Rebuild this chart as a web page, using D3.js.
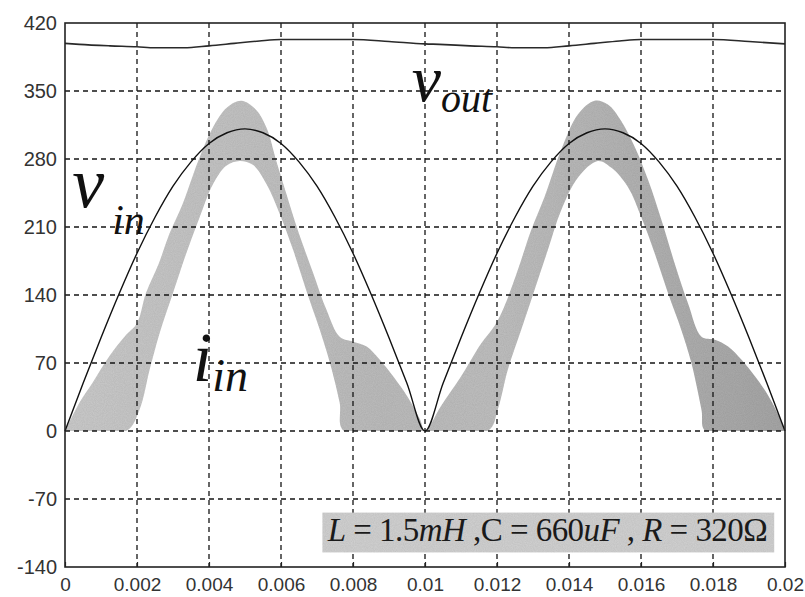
<!DOCTYPE html>
<html>
<head>
<meta charset="utf-8">
<script src="https://cdn.jsdelivr.net/npm/d3@7"></script>
<style>
  body { margin: 0; background: #ffffff; }
  svg { display: block; }
</style>
</head>
<body>
<svg id="chart" width="805" height="597"></svg>
<script>
// ---- axis ticks ----
const xTicks = [0, 0.002, 0.004, 0.006, 0.008, 0.01, 0.012, 0.014, 0.016, 0.018, 0.02];
const xTickLabels = ["0", "0.002", "0.004", "0.006", "0.008", "0.01", "0.012", "0.014", "0.016", "0.018", "0.02"];
const yTicks = [-140, -70, 0, 70, 140, 210, 280, 350, 420];
const yTickLabels = ["-140", "-70", "0", "70", "140", "210", "280", "350", "420"];

// ---- input voltage v_in (rectified mains, V) ----
const vinTime = [0, 0.0005, 0.001, 0.0015, 0.002, 0.0025, 0.003, 0.0035, 0.004, 0.0045,
                 0.005, 0.0055, 0.006, 0.0065, 0.007, 0.0075, 0.008, 0.0085, 0.009, 0.0095,
                 0.01, 0.0105, 0.011, 0.0115, 0.012, 0.0125, 0.013, 0.0135, 0.014, 0.0145,
                 0.015, 0.0155, 0.016, 0.0165, 0.017, 0.0175, 0.018, 0.0185, 0.019, 0.0195, 0.02];
const vinValues = [0, 49, 96, 141, 183, 220, 252, 277, 296, 307,
                   311, 307, 296, 277, 252, 220, 183, 141, 96, 49,
                   0, 49, 96, 141, 183, 220, 252, 277, 296, 307,
                   311, 307, 296, 277, 252, 220, 183, 141, 96, 49, 0];

// ---- output voltage v_out (V) ----
const voutTime = [0, 0.0004, 0.00125, 0.002, 0.0025, 0.0033, 0.004, 0.0047, 0.0054, 0.006,
                  0.008, 0.009, 0.01, 0.0104, 0.01125, 0.012, 0.0125, 0.0133, 0.014, 0.0147,
                  0.0154, 0.016, 0.018, 0.019, 0.02];
const voutValues = [399, 398, 396.5, 395.5, 394.5, 394.5, 396.5, 399, 401.5, 403,
                    403, 401, 398.5, 398, 396.5, 395.5, 394.5, 394.5, 396.5, 399,
                    401.5, 403, 403, 401, 398.5];

// ---- input current band i_in (scaled), upper and lower envelope of the ripple ----
const iinUpperTime = [0, 0.0004, 0.00077, 0.00123, 0.0017, 0.002, 0.00225, 0.0026, 0.0029, 0.00327,
                      0.0037, 0.0041, 0.0045, 0.0049, 0.0053, 0.0056, 0.00587, 0.00615, 0.0065, 0.0069,
                      0.00726, 0.00763, 0.008, 0.00838, 0.00875, 0.00912, 0.0095, 0.00986, 0.01,
                      0.01045, 0.011, 0.01156, 0.01193, 0.0122, 0.01258, 0.01295, 0.01332, 0.01378, 0.01425,
                      0.01471, 0.01508, 0.01545, 0.01583, 0.0162, 0.01657, 0.01694, 0.01731, 0.01768, 0.01805,
                      0.01842, 0.0188, 0.01917, 0.01954, 0.01991, 0.02];
const iinUpperValues = [0, 29, 50, 77, 99, 111, 142, 172, 203, 234,
                        278, 312, 333, 340, 331, 312, 278, 244, 203, 162,
                        125, 97, 92, 87, 73, 56, 36, 12, 0,
                        26, 56, 90, 108, 128, 166, 207, 241, 289, 326,
                        340, 336, 319, 292, 258, 217, 172, 131, 97, 94,
                        87, 73, 56, 36, 9, 0];
const iinLowerTime = [0, 0.0017, 0.00207, 0.00235, 0.00263, 0.003, 0.00337, 0.00374, 0.00411, 0.00448,
                      0.00485, 0.00522, 0.0056, 0.00596, 0.00634, 0.0067, 0.00708, 0.00736, 0.00763, 0.00775,
                      0.01174, 0.01202, 0.0123, 0.01267, 0.01304, 0.01341, 0.01378, 0.01425, 0.0148, 0.01518,
                      0.01564, 0.01601, 0.01638, 0.01675, 0.01712, 0.0174, 0.01768, 0.01779, 0.02];
const iinLowerValues = [0, 0, 22, 63, 101, 142, 183, 220, 254, 273,
                        278, 274, 254, 224, 186, 145, 104, 70, 29, 0,
                        0, 22, 63, 104, 145, 186, 227, 261, 278, 271,
                        251, 220, 183, 142, 104, 70, 22, 0, 0];

// ---- annotation text ----
const paramText = [
  { t: "L", italic: true }, { t: " = 1.5", italic: false }, { t: "mH", italic: true },
  { t: " ,", italic: false }, { t: "C", italic: false }, { t: " = 660", italic: false },
  { t: "uF", italic: true }, { t: " , ", italic: false }, { t: "R", italic: true },
  { t: " = 320Ω", italic: false }
];

// ---- layout ----
const plot = { left: 65, right: 785, top: 23, bottom: 567 };
const svg = d3.select("#chart");

const x = d3.scaleLinear().domain([0, 0.02]).range([plot.left, plot.right]);
const y = d3.scaleLinear().domain([-140, 420]).range([plot.bottom, plot.top]);

svg.append("rect").attr("width", 805).attr("height", 597).attr("fill", "#ffffff");

const defs = svg.append("defs");
const grad = defs.append("linearGradient")
  .attr("id", "bandFill").attr("gradientUnits", "userSpaceOnUse")
  .attr("x1", x(0)).attr("x2", x(0.02)).attr("y1", 0).attr("y2", 0);
grad.append("stop").attr("offset", "0%").attr("stop-color", "#cbcbcb");
grad.append("stop").attr("offset", "45%").attr("stop-color", "#bcbcbc");
grad.append("stop").attr("offset", "60%").attr("stop-color", "#c0c0c0");
grad.append("stop").attr("offset", "100%").attr("stop-color", "#a6a6a6");

const grain = defs.append("filter").attr("id", "grain")
  .attr("x", 0).attr("y", 0).attr("width", 1).attr("height", 1);
grain.append("feTurbulence").attr("type", "fractalNoise").attr("baseFrequency", 0.9)
  .attr("numOctaves", 2).attr("seed", 3).attr("result", "noise");
grain.append("feColorMatrix").attr("in", "noise").attr("type", "matrix")
  .attr("values", "0 0 0 0 0  0 0 0 0 0  0 0 0 0 0  0 0 0 0.18 0").attr("result", "speck");
grain.append("feComposite").attr("in", "speck").attr("in2", "SourceGraphic").attr("operator", "in").attr("result", "speckIn");
grain.append("feMerge").selectAll("feMergeNode").data(["SourceGraphic", "speckIn"]).join("feMergeNode").attr("in", d => d);

defs.append("clipPath").attr("id", "aboveZero")
  .append("rect").attr("x", x(0)).attr("y", y(420))
  .attr("width", x(0.02) - x(0)).attr("height", y(0) - y(420));

// ---- i_in band ----
const upperPts = iinUpperTime.map((t, i) => [t, iinUpperValues[i]]);
const lowerPts = iinLowerTime.map((t, i) => [t, iinLowerValues[i]]).reverse();
const bandLine = d3.line()
  .x(d => x(d[0])).y(d => y(d[1]))
  .curve(d3.curveCatmullRomClosed.alpha(0.5));
svg.append("path")
  .attr("d", bandLine(upperPts.concat(lowerPts)))
  .attr("fill", "url(#bandFill)")
  .attr("filter", "url(#grain)")
  .attr("clip-path", "url(#aboveZero)");

// ---- grid ----
const grid = svg.append("g").attr("stroke", "#141414").attr("stroke-width", 1.3)
  .attr("stroke-dasharray", "5,4").attr("fill", "none");
grid.selectAll("line.v").data(xTicks.slice(1, -1)).join("line")
  .attr("x1", d => x(d)).attr("x2", d => x(d))
  .attr("y1", y(420)).attr("y2", y(-140));
grid.selectAll("line.h").data(yTicks.slice(1, -1)).join("line")
  .attr("x1", x(0)).attr("x2", x(0.02))
  .attr("y1", d => y(d)).attr("y2", d => y(d));

// ---- curves ----
const vinLine = d3.line().x((t, i) => x(t)).y((t, i) => y(vinValues[i])).curve(d3.curveMonotoneX);
svg.append("path").attr("d", vinLine(vinTime))
  .attr("fill", "none").attr("stroke", "#111").attr("stroke-width", 1.4);

const voutLine = d3.line().x((t, i) => x(t)).y((t, i) => y(voutValues[i])).curve(d3.curveMonotoneX);
svg.append("path").attr("d", voutLine(voutTime))
  .attr("fill", "none").attr("stroke", "#2a2a2a").attr("stroke-width", 1.6);

// ---- axes ----
const xAxis = d3.axisBottom(x).tickValues(xTicks).tickSize(-5)
  .tickFormat((d, i) => xTickLabels[i]).tickPadding(11);
const gx = svg.append("g").attr("transform", `translate(0,${plot.bottom})`).call(xAxis);
const yAxis = d3.axisLeft(y).tickValues(yTicks).tickSize(0)
  .tickFormat((d, i) => yTickLabels[i]).tickPadding(8);
const gy = svg.append("g").attr("transform", `translate(${plot.left},0)`).call(yAxis);
[gx, gy].forEach(g => {
  g.select(".domain").remove();
  g.selectAll("text").attr("font-family", "Liberation Sans, Arial, sans-serif")
    .attr("font-size", 20).attr("fill", "#333");
  g.selectAll("line").attr("stroke", "#222").attr("stroke-width", 1.2);
});
gx.selectAll("text").attr("font-size", 19).attr("dy", "0.71em");

svg.append("rect")
  .attr("x", x(0)).attr("y", y(420))
  .attr("width", x(0.02) - x(0)).attr("height", y(-140) - y(420))
  .attr("fill", "none").attr("stroke", "#222").attr("stroke-width", 1.6);

// ---- series labels (italic symbol with subscript) ----
const serif = "Liberation Serif, Times New Roman, serif";
function label(tMain, sub, tx, vy, mainSize, subDx, subDy, subSize) {
  const t = svg.append("text").attr("x", x(tx)).attr("y", y(vy))
    .attr("font-family", serif).attr("font-style", "italic").attr("fill", "#111");
  t.append("tspan").attr("font-size", mainSize).text(tMain);
  t.append("tspan").attr("font-size", subSize).attr("dx", subDx).attr("dy", subDy).text(sub);
}
label("v", "in", 0.0002, 231, 72, 8, 27, 42);
label("v", "out", 0.00963, 340, 66, 0, 11, 40);
label("i", "in", 0.00355, 51, 70, 0, 10, 46);

// ---- parameter box ----
svg.append("rect")
  .attr("x", x(0.00715)).attr("y", y(-84))
  .attr("width", x(0.0197) - x(0.00715)).attr("height", y(-125) - y(-84))
  .attr("fill", "#d2d2d2").attr("filter", "url(#grain)");
svg.append("text")
  .attr("x", x(0.0073)).attr("y", y(-113))
  .attr("font-family", serif).attr("font-size", 33).attr("fill", "#1a1a1a")
  .attr("textLength", 440).attr("lengthAdjust", "spacing")
  .selectAll("tspan").data(paramText).join("tspan")
  .attr("font-style", d => d.italic ? "italic" : "normal")
  .text(d => d.t);
</script>
</body>
</html>
